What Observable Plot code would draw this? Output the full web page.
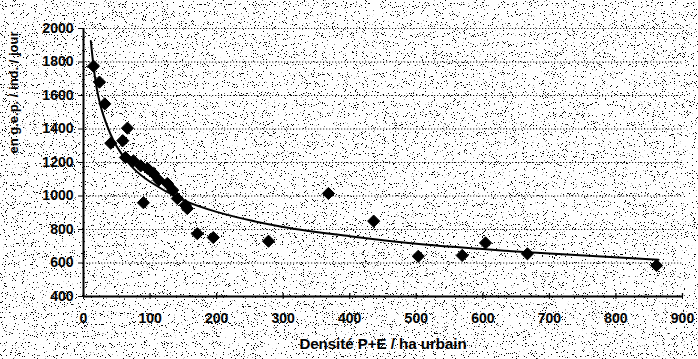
<!DOCTYPE html>
<html><head><meta charset="utf-8">
<script src="https://cdn.jsdelivr.net/npm/d3@7"></script>
<script src="https://cdn.jsdelivr.net/npm/@observablehq/plot@0.6"></script>
<style>
html,body{margin:0;padding:0;width:698px;height:359px;overflow:hidden;background:#fff;}
#noise{position:absolute;left:0;top:0;width:698px;height:359px;z-index:0}
#chart{position:absolute;left:0;top:0;z-index:1}
#chart svg{background:transparent}
</style>
</head><body>
<svg id="noise" xmlns="http://www.w3.org/2000/svg" width="698" height="359">
  <filter id="speckle" x="0" y="0" width="100%" height="100%">
    <feTurbulence type="fractalNoise" baseFrequency="1.1" numOctaves="2" seed="7"/>
    <feColorMatrix type="matrix" values="0 0 0 0 0  0 0 0 0 0  0 0 0 0 0  -30 0 0 0 9.9"/>
  </filter>
  <rect width="698" height="359" filter="url(#speckle)"/>
</svg>
<div id="chart"></div>
<script>
// Data
const densite = [15, 24, 32, 41, 59, 66, 63, 75, 86, 96, 105, 113, 126, 134, 141, 153, 156, 90, 171, 195, 278, 368, 436, 503, 569, 604, 667, 861];
const conso   = [1775, 1680, 1550, 1315, 1330, 1405, 1230, 1210, 1180, 1165, 1135, 1095, 1075, 1035, 985, 945, 925, 960, 775, 752, 730, 1015, 850, 640, 645, 720, 655, 585];
// Trend curve
const trendX = [11, 20, 30, 50, 75, 100, 150, 200, 300, 400, 500, 600, 700, 864];
const trendY = [1925, 1640, 1480, 1295, 1165, 1085, 975, 905, 815, 760, 715, 683, 656, 620];
const xTicks = [0, 100, 200, 300, 400, 500, 600, 700, 800, 900];
const yTicks = [400, 600, 800, 1000, 1200, 1400, 1600, 1800, 2000];
const xLabel = "Densité P+E / ha urbain";
const yLabel = "en g.e.p. / ind. / jour";

const points = densite.map((d, i) => ({x: d, y: conso[i]}));
const trend = trendX.map((d, i) => ({x: d, y: trendY[i]}));

const chart = Plot.plot({
  width: 698, height: 359,
  marginLeft: 83, marginRight: 16, marginTop: 28, marginBottom: 63,
  style: {background: "transparent", fontFamily: "'Liberation Sans', Arial, sans-serif", fontSize: "14px", color: "#000"},
  x: {domain: [0, 900]},
  y: {domain: [400, 2000]},
  marks: [
    Plot.gridY(yTicks.filter(d => d > 400), {stroke: "#000", strokeOpacity: 0.85, strokeDasharray: "1.2,1.8", strokeWidth: 1}),
    Plot.axisY({ticks: yTicks, tickSize: 5, tickPadding: 5, label: null, tickFormat: d => String(d), fontWeight: "bold", fontSize: 14, letterSpacing: 1}),
    Plot.axisX({ticks: xTicks, tickSize: 3, tickPadding: 14, label: null, tickFormat: d => String(d), fontWeight: "bold", fontSize: 14, letterSpacing: 1}),
    Plot.ruleX(xTicks, {x: d => d, y1: 400, y2: 418, stroke: "#000", strokeWidth: 1.3}),
    Plot.ruleX([0], {stroke: "#000", strokeWidth: 2}),
    Plot.ruleY([400], {stroke: "#000", strokeWidth: 2}),
    Plot.line(trend, {x: "x", y: "y", curve: "catmull-rom", stroke: "#000", strokeWidth: 2}),
    Plot.dot(points, {x: "x", y: "y", symbol: "diamond2", r: 5.5, fill: "#000", stroke: "#000", strokeWidth: 1}),
    Plot.text([xLabel], {text: d => d, frameAnchor: "bottom", dy: 52, fontSize: 15, fontWeight: "bold", letterSpacing: 0.8}),
    Plot.text([yLabel], {text: d => d, frameAnchor: "left", dx: -70, dy: -9, rotate: -90, fontSize: 13, fontWeight: "bold"})
  ]
});
document.getElementById("chart").appendChild(chart);
</script>
</body></html>
